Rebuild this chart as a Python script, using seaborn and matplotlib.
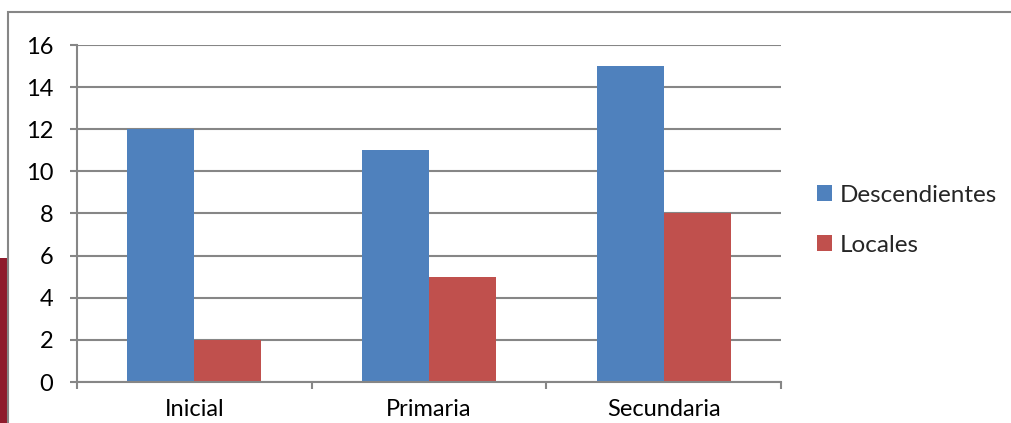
import matplotlib
matplotlib.use("Agg")
import matplotlib.pyplot as plt
from matplotlib.patches import Rectangle
from matplotlib.ticker import FixedLocator
import seaborn as sns
import pandas as pd

# Data
categories = ["Inicial", "Primaria", "Secundaria"]
series_names = ["Descendientes", "Locales"]
descendientes = [12, 11, 15]
locales = [2, 5, 8]
y_ticks = [0, 2, 4, 6, 8, 10, 12, 14, 16]

colors = ["#4F81BD", "#C0504D"]
grid_gray = "#868686"
fs = 17

df = pd.DataFrame({
    "nivel": categories * 2,
    "serie": [series_names[0]] * 3 + [series_names[1]] * 3,
    "valor": descendientes + locales,
})

sns.set_style("white")
plt.rcParams["font.family"] = ["Lato", "DejaVu Sans"]

fig = plt.figure(figsize=(10.11, 4.23), dpi=100)

# Dark strip on the left edge behind the chart frame
fig.patches.append(Rectangle((0, 0), 8 / 1011, 165 / 423, transform=fig.transFigure,
                             facecolor="#8E1B2C", edgecolor="none", zorder=-2))
# Chart frame
fig.patches.append(Rectangle((8 / 1011, -0.05), 1.1, (423 - 12) / 423 + 0.05,
                             transform=fig.transFigure, facecolor="white",
                             edgecolor=grid_gray, linewidth=1.5, zorder=-1))

ax = fig.add_axes([77 / 1011, 41 / 423, 704 / 1011, 337 / 423])
ax.set_zorder(2)
ax.set_facecolor("none")

sns.barplot(data=df, x="nivel", y="valor", hue="serie", order=categories,
            hue_order=series_names, palette=colors, width=0.571, saturation=1,
            dodge=True, ax=ax, zorder=3, legend=True)
for p in ax.patches:
    p.set_edgecolor("none")

ax.set_xlim(-0.5, 2.5)
ax.set_ylim(0, 16)
ax.set_yticks(y_ticks)
ax.set_xlabel("")
ax.set_ylabel("")

ax.yaxis.grid(True, color=grid_gray, linewidth=1.5, zorder=0)
ax.set_axisbelow(True)

for side in ["top", "right"]:
    ax.spines[side].set_visible(False)
for side in ["left", "bottom"]:
    ax.spines[side].set_color(grid_gray)
    ax.spines[side].set_linewidth(1.5)
    ax.spines[side].set_zorder(4)

ax.tick_params(axis="y", length=5, width=1.5, color=grid_gray, pad=12,
               labelsize=fs, labelcolor="black", left=True)
ax.tick_params(axis="x", which="major", length=0, pad=12.5, labelsize=fs,
               labelcolor="black")
ax.xaxis.set_minor_locator(FixedLocator([-0.5, 0.5, 1.5, 2.5]))
ax.tick_params(axis="x", which="minor", length=5, width=1.5, color=grid_gray,
               bottom=True)

leg = ax.legend(loc="center left", bbox_to_anchor=(1.034, 0.48), frameon=False,
                fontsize=17.5, handlelength=0.62, handleheight=0.62,
                handletextpad=0.3, labelspacing=1.2, borderpad=0)

fig.savefig("out.png", dpi=100)
